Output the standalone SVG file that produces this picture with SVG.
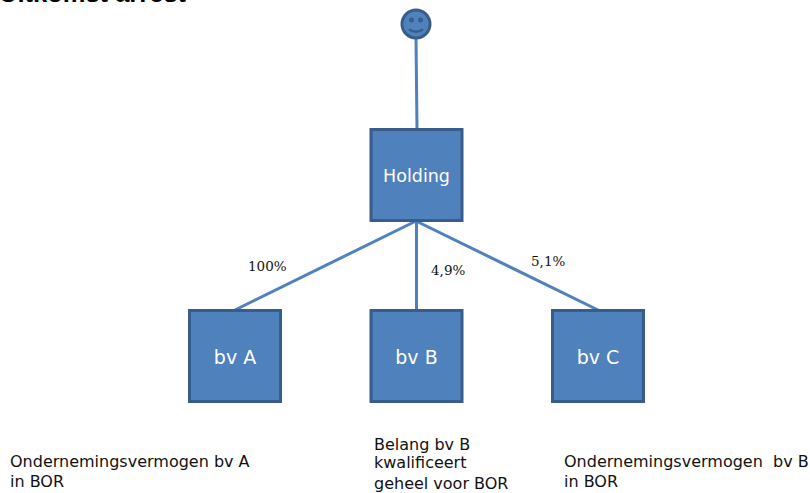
<svg xmlns="http://www.w3.org/2000/svg" width="810" height="493" viewBox="0 0 810 493">
<style>
.box{fill:#4f81bd;stroke:#385d8a;stroke-width:3}
.lbl{font-family:"DejaVu Sans",sans-serif;font-size:19px;fill:#fff;text-anchor:middle}
.pct{font-family:"DejaVu Serif",serif;font-size:13.500px;fill:#111}
.note{font-family:"DejaVu Sans",sans-serif;font-size:16px;fill:#111}
.conn{stroke:#4f81bd;stroke-width:3;fill:none}
.title{font-family:"Liberation Sans",sans-serif;font-size:25.500px;font-weight:bold;fill:#000}
</style>
<rect width="810" height="493" fill="#fff"/>
<text class="title" x="-1" y="2">Uitkomst arrest</text>
<g id="connectors">
<path class="conn" d="M416 38L417 129"/>
<path class="conn" d="M416 221L235 310"/>
<path class="conn" d="M416.500 221V310"/>
<path class="conn" d="M416 221L598 310"/>
</g>
<g id="person">
<circle cx="416" cy="24" r="14" fill="#4f81bd" stroke="#385d8a" stroke-width="3"/>
<ellipse cx="411.500" cy="20" rx="2.500" ry="2.500" fill="#385d8a"/>
<ellipse cx="420.500" cy="20" rx="2.500" ry="2.500" fill="#385d8a"/>
<path d="M409 29.500Q416 34 423 29.500" fill="none" stroke="#385d8a" stroke-width="2.500"/>
</g>
<g id="holding">
<rect class="box" x="371" y="129.500" width="91" height="91"/>
<text class="lbl" x="416.500" y="182" style="font-size:17.500px">Holding</text>
</g>
<g id="bv-a">
<rect class="box" x="189.500" y="310.500" width="91" height="91"/>
<text class="lbl" x="235" y="364">bv A</text>
</g>
<g id="bv-b">
<rect class="box" x="371" y="310.500" width="91" height="91"/>
<text class="lbl" x="416.500" y="364">bv B</text>
</g>
<g id="bv-c">
<rect class="box" x="552.500" y="310.500" width="91" height="91"/>
<text class="lbl" x="598" y="364">bv C</text>
</g>
<g id="labels">
<text class="pct" x="248" y="271">100%</text>
<text class="pct" x="431" y="275">4,9%</text>
<text class="pct" x="531" y="266">5,1%</text>
<text class="note" x="10" y="467">Ondernemingsvermogen bv A</text>
<text class="note" x="10" y="487">in BOR</text>
<text class="note" x="374" y="450">Belang bv B</text>
<text class="note" x="374" y="468">kwalificeert</text>
<text class="note" x="374" y="489">geheel voor BOR</text>
<text class="note" x="564" y="467" xml:space="preserve">Ondernemingsvermogen  bv B</text>
<text class="note" x="564" y="487">in BOR</text>
</g>
</svg>
